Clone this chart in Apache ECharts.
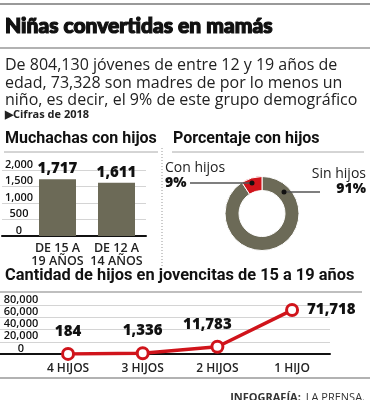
<!DOCTYPE html>
<html>
<head>
<meta charset="utf-8">
<script src="https://cdn.jsdelivr.net/npm/echarts@6/dist/echarts.min.js"></script>
<style>
html,body{margin:0;padding:0;background:#fff;}
#c{width:370px;height:400px;}
</style>
</head>
<body>
<div id="c"></div>
<script>
// ---- Data ----
const barCategories = ['DE 15 A\n19 AÑOS', 'DE 12 A\n14 AÑOS'];
const barValues = [1717, 1611];
const barTicks = [0, 500, 1000, 1500, 2000];

const donutNames = ['Sin hijos', 'Con hijos'];
const donutValues = [730802, 73328];

const lineCategories = ['4 HIJOS', '3 HIJOS', '2 HIJOS', '1 HIJO'];
const lineValues = [184, 1336, 11783, 71718];
const lineTicks = [0, 20000, 40000, 60000, 80000];

// ---- Styles ----
const OLIVE = '#6c6a57';
const RED = '#d0141b';
const GRIDC = '#d4d4d4';
const F = '"Open Sans", "Noto Sans", sans-serif';
const FR = 'Roboto, "Open Sans", sans-serif';
const FH = 'Lato, "Open Sans", sans-serif';

const fmt = v => v.toLocaleString('en-US');
const total = donutValues.reduce((a, b) => a + b, 0);

const chart = echarts.init(document.getElementById('c'), null, {renderer: 'canvas'});

const donutCenter = [262, 213.5];

const T = (text, left, top, style, extra) => Object.assign({text, left, top, padding: 0, textStyle: style}, extra || {});

const option = {
  backgroundColor: '#fff',
  animation: false,
  title: [
    T('Niñas convertidas en mamás', 5, 16,
      {fontFamily: FH, fontWeight: 900, fontSize: 21, color: '#111', textBorderColor: '#111', textBorderWidth: 1.2}),
    T('De 804,130 jóvenes de entre 12 y 19 años de\nedad, 73,328 son madres de por lo menos un\nniño, es decir, el 9% de este grupo demográfico',
      5, 57, {fontFamily: F, fontWeight: 400, fontSize: 16, lineHeight: 17.5, color: '#222'}),
    T('▶Cifras de 2018', 5, 109, {fontFamily: F, fontWeight: 700, fontSize: 11, color: '#222'}),
    T('Muchachas con hijos', 5, 131, {fontFamily: FR, fontWeight: 700, fontSize: 16, color: '#111'}),
    T('Porcentaje con hijos', 173, 131, {fontFamily: FR, fontWeight: 700, fontSize: 16, color: '#111'}),
    T('Cantidad de hijos en jovencitas de 15 a 19 años', 5, 268, {fontFamily: FR, fontWeight: 700, fontSize: 16.4, color: '#111'}),
    Object.assign({text: '{b|INFOGRAFÍA:} {r|LA PRENSA.}', right: 5, top: 389, padding: 0,
      textStyle: {rich: {
        b: {fontFamily: F, fontWeight: 700, fontSize: 11, color: '#333'},
        r: {fontFamily: F, fontWeight: 400, fontSize: 11, color: '#333'}}}})
  ],
  grid: [
    {left: 28, top: 170, width: 118, height: 66},   // bars
    {left: 2, top: 170, width: 144, height: 66},    // bar background
    {left: 30.7, top: 305, width: 298.7, height: 49}, // line
    {left: 0, top: 305, width: 330, height: 49}     // line background
  ],
  xAxis: [
    {gridIndex: 0, type: 'category', data: barCategories,
     axisLine: {show: false}, axisTick: {show: false},
     axisLabel: {interval: 0, margin: 6, fontFamily: F, fontWeight: 600, fontSize: 12.5, lineHeight: 13, color: '#222'}},
    {gridIndex: 1, type: 'value', min: 0, max: 1, show: true,
     axisLine: {show: true, onZero: false, lineStyle: {color: '#111', width: 2}},
     axisTick: {show: false}, axisLabel: {show: false}, splitLine: {show: false}},
    {gridIndex: 2, type: 'category', data: lineCategories,
     axisLine: {show: false}, axisTick: {show: false},
     axisLabel: {interval: 0, margin: 9, fontFamily: F, fontWeight: 600, fontSize: 12, color: '#222'}},
    {gridIndex: 3, type: 'value', min: 0, max: 1, show: true,
     axisLine: {show: true, onZero: false, lineStyle: {color: '#111', width: 2}},
     axisTick: {show: false}, axisLabel: {show: false}, splitLine: {show: false}}
  ],
  yAxis: [
    {gridIndex: 0, type: 'value', min: barTicks[0], max: barTicks[barTicks.length - 1], interval: barTicks[1] - barTicks[0],
     show: false},
    {gridIndex: 1, type: 'value', min: barTicks[0], max: barTicks[barTicks.length - 1], interval: barTicks[1] - barTicks[0],
     axisLine: {show: false}, axisTick: {show: false},
     splitLine: {show: true, lineStyle: {color: GRIDC, width: 1}},
     axisLabel: {inside: true, margin: 17, align: 'center', verticalAlign: 'bottom',
       fontFamily: F, fontWeight: 600, fontSize: 11, color: '#111', formatter: v => fmt(v)}},
    {gridIndex: 2, type: 'value', min: lineTicks[0], max: lineTicks[lineTicks.length - 1], interval: lineTicks[1] - lineTicks[0],
     show: false},
    {gridIndex: 3, type: 'value', min: lineTicks[0], max: lineTicks[lineTicks.length - 1], interval: lineTicks[1] - lineTicks[0],
     axisLine: {show: false}, axisTick: {show: false},
     splitLine: {show: true, lineStyle: {color: GRIDC, width: 1}},
     axisLabel: {inside: true, margin: 21, align: 'center', verticalAlign: 'bottom',
       fontFamily: F, fontWeight: 600, fontSize: 11, lineHeight: 11, color: '#111', formatter: v => fmt(v)}}
  ],
  series: [
    {type: 'bar', xAxisIndex: 0, yAxisIndex: 0, data: barValues, barWidth: 37,
     itemStyle: {color: OLIVE}, z: 3,
     label: {show: true, position: 'top', distance: 3, formatter: p => fmt(p.value),
       fontFamily: F, fontWeight: 800, fontSize: 15, color: '#111'}},
    {type: 'pie', center: donutCenter, radius: [23, 37], startAngle: 90, clockwise: true,
     avoidLabelOverlap: false,
     itemStyle: {borderColor: '#fff', borderWidth: 1},
     data: donutNames.map((n, i) => ({name: n, value: donutValues[i],
       itemStyle: {color: i === 0 ? OLIVE : RED}})),
     label: {show: true, position: 'outside',
       formatter: p => '{n|' + p.name + '}\n{p|' + Math.round(p.value / total * 100) + '%}',
       rich: {
         n: {fontFamily: F, fontSize: 14, fontWeight: 400, color: '#222', lineHeight: 15},
         p: {fontFamily: F, fontSize: 14, fontWeight: 800, color: '#111', lineHeight: 15}
       }},
     labelLine: {show: false},
     labelLayout: p => p.dataIndex === 1
       ? {x: 165, y: 176, align: 'left', verticalAlign: 'middle'}
       : {x: 366, y: 182, align: 'right', verticalAlign: 'middle'}
    },
    {type: 'line', xAxisIndex: 2, yAxisIndex: 2, data: lineValues.map((v, i) => {
       const d = {value: v};
       if (i === lineValues.length - 1) d.label = {position: 'right', distance: 8};
       if (i === 2) d.label = {offset: [-10, 0]};
       return d;
     }),
     lineStyle: {color: RED, width: 3.5}, symbol: 'circle', symbolSize: 11,
     itemStyle: {color: '#fff', borderColor: RED, borderWidth: 3}, z: 5,
     label: {show: true, position: 'top', distance: 8, formatter: p => fmt(p.value),
       fontFamily: F, fontWeight: 800, fontSize: 15, color: '#111'}}
  ],
  graphic: [
    {type: 'line', shape: {x1: 0, y1: 4, x2: 370, y2: 4}, style: {stroke: '#999', lineWidth: 2}},
    {type: 'line', shape: {x1: 0, y1: 48, x2: 370, y2: 48}, style: {stroke: '#999', lineWidth: 1.5}},
    {type: 'line', shape: {x1: 4, y1: 152, x2: 158, y2: 152}, style: {stroke: '#aaa', lineWidth: 1}},
    {type: 'line', shape: {x1: 172, y1: 152, x2: 364, y2: 152}, style: {stroke: '#aaa', lineWidth: 1}},
    {type: 'line', shape: {x1: 162, y1: 148, x2: 162, y2: 266}, style: {stroke: '#999', lineWidth: 1, lineDash: [1, 2]}},
    {type: 'line', shape: {x1: 0, y1: 292, x2: 362, y2: 292}, style: {stroke: '#aaa', lineWidth: 1.5}},
    {type: 'line', shape: {x1: 0, y1: 378, x2: 370, y2: 378}, style: {stroke: '#999', lineWidth: 1.5}},
    // donut leader lines
    {type: 'line', shape: {x1: 190, y1: 183, x2: 252, y2: 183}, style: {stroke: '#555', lineWidth: 1.5}, z: 10},
    {type: 'circle', shape: {cx: 252, cy: 183, r: 2.5}, style: {fill: '#111'}, z: 10},
    {type: 'line', shape: {x1: 284, y1: 192, x2: 320, y2: 192}, style: {stroke: '#555', lineWidth: 1.5}, z: 10},
    {type: 'circle', shape: {cx: 284, cy: 192, r: 2.5}, style: {fill: '#111'}, z: 10}
  ]
};
chart.setOption(option);
</script>
</body>
</html>
